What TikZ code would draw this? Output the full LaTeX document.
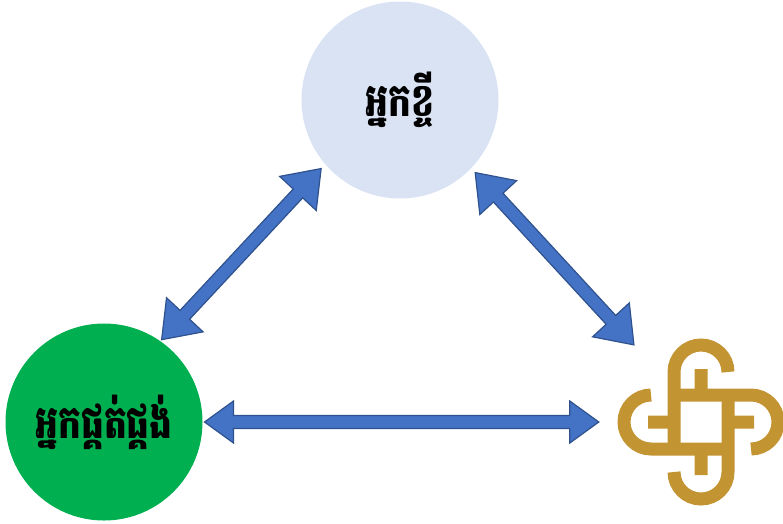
\documentclass[tikz,border=0pt]{standalone}
\usepackage{fontspec}
\usepackage{graphicx}
\newfontfamily\khmerfont[Script=Khmer]{Battambang}
\usetikzlibrary{calc}
\definecolor{borrowerblue}{HTML}{DAE3F3}
\definecolor{suppliergreen}{HTML}{00B050}
\definecolor{arrowfill}{HTML}{4472C4}
\definecolor{arrowline}{HTML}{2F528F}
\definecolor{logogold}{HTML}{C39432}

% block arrow with two heads: from, to, head length, head half width
\newcommand{\blockarrow}[4]{%
  \draw[fill=arrowfill, draw=arrowline, line width=1.2pt, line join=miter]
    (#1) -- ($(#1)!#3pt!(#2)!#4pt!90:(#2)$)
    -- ($(#1)!#3pt!(#2)!6.5pt!90:(#2)$)
    -- ($(#2)!#3pt!(#1)!6.5pt!-90:(#1)$)
    -- ($(#2)!#3pt!(#1)!#4pt!-90:(#1)$)
    -- (#2)
    -- ($(#2)!#3pt!(#1)!#4pt!90:(#1)$)
    -- ($(#2)!#3pt!(#1)!6.5pt!90:(#1)$)
    -- ($(#1)!#3pt!(#2)!6.5pt!-90:(#2)$)
    -- ($(#1)!#3pt!(#2)!#4pt!-90:(#2)$)
    -- cycle;}
% taller khmer label
\newcommand{\khlabel}[1]{\scalebox{0.95}[1.2]{#1}}

\begin{document}
\begin{tikzpicture}[x=1pt,y=1pt,
  bubble/.style={circle, minimum size=197pt, inner sep=0pt,
    font=\khmerfont\bfseries\fontsize{38}{44}\selectfont},
  logoline/.style={draw=logogold, line width=13pt}]
\useasboundingbox (0,0) rectangle (783,-523);
\node[bubble, fill=borrowerblue, outer sep=6pt] (borrower) at (400,-100) {\khlabel{អ្នកខ្ចី}};
\node[bubble, fill=suppliergreen, outer sep=2pt] (supplier) at (104,-422) {\khlabel{អ្នកផ្គត់ផ្គង់}};
\node[circle, minimum size=204pt, inner sep=0pt] (logo) at (701,-422) {};
% logo
\foreach \a in {0,90,180,270}
  \draw[logoline, shift={(logo.center)}, rotate=\a] (27,50) arc (0:180:27) -- (-27,-27) (0,27) -- (0,53);
% arrows
\blockarrow{supplier.55}{borrower.221}{34}{25}
\blockarrow{borrower.316}{logo.131}{34}{25}
\blockarrow{supplier.east}{logo.west}{29}{21}
\end{tikzpicture}
\end{document}
